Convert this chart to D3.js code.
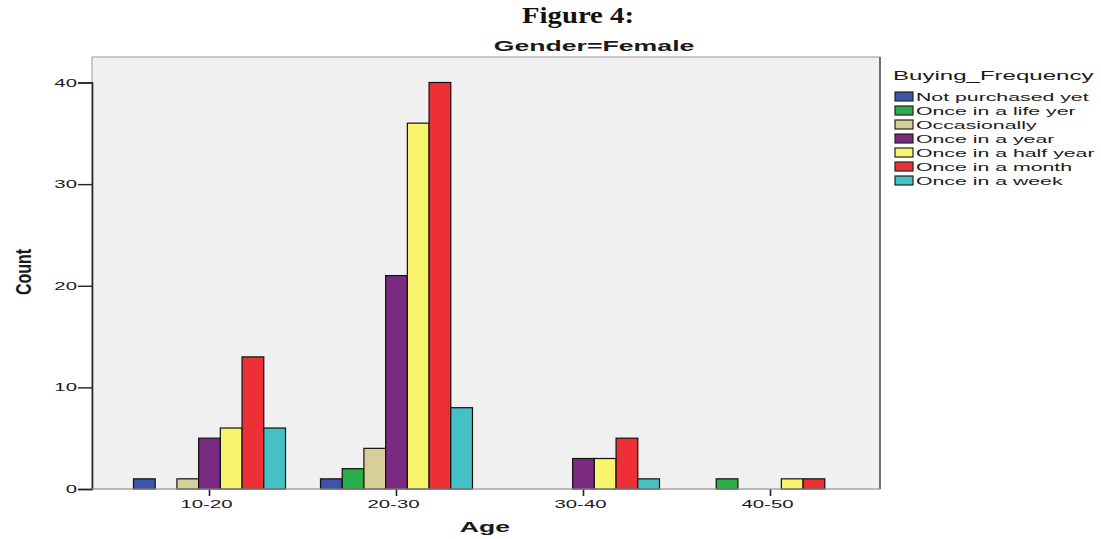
<!DOCTYPE html>
<html><head><meta charset="utf-8">
<script src="https://cdnjs.cloudflare.com/ajax/libs/d3/7.8.5/d3.min.js"></script>
<style>body{margin:0;background:#fff}svg{display:block}</style>
</head><body><svg id="c" width="1101" height="539"></svg>
<script>
const ageGroups = ["10-20", "20-30", "30-40", "40-50"];
const frequencies = ["Not purchased yet", "Once in a life yer", "Occasionally", "Once in a year", "Once in a half year", "Once in a month", "Once in a week"];
const colors = ["#3d55a8", "#2aae4a", "#d6cf98", "#7a2a80", "#f8f46e", "#ec3035", "#45c0c4"];
const countsByAge = [
  [1, 0, 1, 5, 6, 13, 6],
  [1, 2, 4, 21, 36, 40, 8],
  [0, 0, 0, 3, 3, 5, 1],
  [0, 1, 0, 0, 1, 1, 0]
];
const yTicks = [0, 10, 20, 30, 40];

const S = 1.85; // horizontal stretch of the original SPSS text
const sans = "Liberation Sans, Arial, sans-serif";
const svg = d3.select("#c");
const plot = {l: 92, r: 880, t: 57, b: 489};

function stretched(parent, x, y, str, opts) {
  const g = parent.append("g").attr("transform", `translate(${x},${y}) scale(${opts.s || S},1)` + (opts.rot ? ` rotate(${opts.rot})` : ""));
  return g.append("text").attr("x", 0).attr("y", 0)
    .attr("text-anchor", opts.anchor || "start")
    .attr("font-family", opts.family || sans)
    .attr("font-weight", opts.bold ? "bold" : "normal")
    .attr("font-size", opts.size)
    .attr("fill", opts.fill || "#1a1a1a")
    .text(str);
}

svg.append("rect").attr("x", plot.l).attr("y", plot.t).attr("width", plot.r - plot.l).attr("height", plot.b - plot.t)
  .attr("fill", "#f0f0f0").attr("stroke", "#9a9a9a").attr("stroke-width", 1);
svg.append("line").attr("x1", plot.r).attr("x2", plot.r).attr("y1", plot.t).attr("y2", plot.b).attr("stroke", "#555").attr("stroke-width", 1.5);

const x0 = d3.scaleBand().domain(ageGroups).range([116, 864]).padding(0);
const x1 = d3.scaleBand().domain(frequencies).range([0, 152]);
const y = d3.scaleLinear().domain([0, 40]).range([plot.b, 82.5]);

const groups = svg.append("g").selectAll("g").data(ageGroups).join("g")
  .attr("transform", d => `translate(${x0(d) + x0.bandwidth()/2 - 76},0)`);
groups.selectAll("rect").data((d, i) => countsByAge[i].map((v, j) => ({v, j})).filter(o => o.v > 0))
  .join("rect")
  .attr("x", o => x1(frequencies[o.j]))
  .attr("width", x1.bandwidth())
  .attr("y", o => y(o.v))
  .attr("height", o => y(0) - y(o.v))
  .attr("fill", o => colors[o.j])
  .attr("stroke", "#111").attr("stroke-width", 1.2);

// Y axis
const yAxis = d3.axisLeft(y).tickValues(yTicks).tickSize(14).tickFormat("");
const ya = svg.append("g").attr("transform", `translate(${plot.l},0)`).call(yAxis);
ya.select(".domain").attr("stroke", "#222").attr("stroke-width", 1.6);
ya.selectAll(".tick line").attr("stroke", "#222").attr("stroke-width", 1.4);
yTicks.forEach(t => stretched(svg, 77, y(t) + 4, d3.format("d")(t), {size: 11, anchor: "end"}));

// X axis
const xAxis = d3.axisBottom(x0).tickSize(7).tickFormat("");
const xa = svg.append("g").attr("transform", `translate(0,${plot.b})`).call(xAxis);
xa.select(".domain").remove();
xa.selectAll(".tick line").attr("stroke", "#222").attr("stroke-width", 1.6);
ageGroups.forEach(a => stretched(svg, x0(a) + x0.bandwidth()/2 - 3, 508, a, {size: 11, anchor: "middle"}));
svg.append("line").attr("x1", plot.l).attr("x2", plot.r).attr("y1", plot.b).attr("y2", plot.b).attr("stroke", "#aaa");

// Titles
svg.append("text").attr("x", 578).attr("y", 23).attr("text-anchor", "middle")
  .attr("font-family", "Liberation Serif, serif").attr("font-weight", "bold").attr("font-size", 24)
  .attr("textLength", 112).attr("lengthAdjust", "spacingAndGlyphs").attr("fill", "#111").text("Figure 4:");
stretched(svg, 594, 51, "Gender=Female", {size: 15.5, bold: true, anchor: "middle", s: 1.72});
stretched(svg, 485, 532, "Age", {size: 14, bold: true, anchor: "middle", s: 1.9});
stretched(svg, 31, 272, "Count", {size: 16, bold: true, anchor: "middle", rot: -90, s: 1.4});

// Legend
stretched(svg, 893, 80, "Buying_Frequency", {size: 13});
const li = svg.append("g").selectAll("g.it").data(frequencies).join("g").attr("class", "it")
  .attr("transform", (d, i) => `translate(0,${92 + i * 14})`);
li.append("rect").attr("x", 895).attr("y", 0).attr("width", 18).attr("height", 9)
  .attr("fill", (d, i) => colors[i]).attr("stroke", "#222").attr("stroke-width", 1.2);
li.each(function(d) { stretched(d3.select(this), 916, 9, d, {size: 11.5}); });
</script></body></html>
